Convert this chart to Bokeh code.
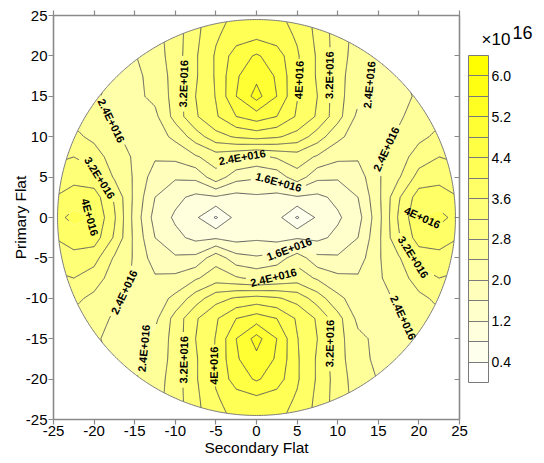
import numpy as np
from bokeh.plotting import figure
from bokeh.plotting.contour import contour_data
from bokeh.models import (Range1d, FixedTicker, LinearAxis, ColorBar, LinearColorMapper,
                          PrintfTickFormatter)
from bokeh.core.properties import value
from bokeh.embed import file_html
from bokeh.resources import INLINE

# ---------------- data (concentration in units of 1E+016) ----------------
secondary_flat = [-25.0, -22.5, -20.0, -17.5, -15.0, -12.5, -10.0, -7.5, -5.0, -2.5, 0.0,
                  2.5, 5.0, 7.5, 10.0, 12.5, 15.0, 17.5, 20.0, 22.5, 25.0]
primary_flat = [-25.0, -22.5, -20.0, -17.5, -15.0, -12.5, -10.0, -7.5, -5.0, -2.5, 0.0,
                2.5, 5.0, 7.5, 10.0, 12.5, 15.0, 17.5, 20.0, 22.5, 25.0]
# rows: primary flat -25 .. 25 ; columns: secondary flat -25 .. 25
concentration = [
    [2.60, 2.60, 2.50, 2.50, 2.50, 2.65, 3.00, 3.45, 3.90, 4.05, 4.10, 4.05, 3.90, 3.45, 3.00, 2.65, 2.50, 2.50, 2.50, 2.60, 2.60],
    [2.60, 2.60, 2.50, 2.45, 2.45, 2.65, 3.00, 3.50, 3.95, 4.20, 4.30, 4.20, 3.95, 3.50, 3.00, 2.65, 2.45, 2.45, 2.50, 2.60, 2.60],
    [2.60, 2.60, 2.50, 2.42, 2.38, 2.60, 3.00, 3.55, 4.05, 4.60, 4.85, 4.60, 4.05, 3.55, 3.00, 2.60, 2.38, 2.42, 2.50, 2.60, 2.60],
    [2.60, 2.60, 2.50, 2.35, 2.30, 2.55, 2.95, 3.55, 4.05, 4.75, 5.10, 4.75, 4.05, 3.55, 2.95, 2.55, 2.30, 2.35, 2.50, 2.60, 2.60],
    [2.60, 2.60, 2.45, 2.30, 2.30, 2.50, 2.95, 3.60, 4.02, 4.80, 5.35, 4.80, 4.02, 3.60, 2.95, 2.50, 2.30, 2.30, 2.45, 2.60, 2.60],
    [2.70, 2.70, 2.55, 2.35, 2.20, 2.30, 2.95, 3.55, 3.95, 4.40, 4.60, 4.40, 3.95, 3.55, 2.95, 2.30, 2.20, 2.35, 2.55, 2.70, 2.70],
    [2.90, 2.90, 2.70, 2.45, 2.30, 2.20, 2.50, 3.00, 3.45, 3.65, 3.75, 3.65, 3.45, 3.00, 2.50, 2.20, 2.30, 2.45, 2.70, 2.90, 2.90],
    [3.10, 3.20, 3.00, 2.60, 2.35, 2.05, 2.10, 2.35, 2.60, 2.45, 2.30, 2.45, 2.60, 2.35, 2.10, 2.05, 2.35, 2.60, 3.00, 3.20, 3.10],
    [3.40, 3.50, 3.35, 2.75, 2.35, 1.80, 1.65, 1.70, 2.25, 1.75, 1.65, 1.75, 2.25, 1.70, 1.65, 1.80, 2.35, 2.75, 3.35, 3.50, 3.40],
    [3.60, 3.75, 3.80, 3.15, 2.30, 1.60, 1.30, 1.10, 1.15, 1.05, 1.13, 1.05, 1.15, 1.10, 1.30, 1.60, 2.30, 3.15, 3.80, 3.75, 3.60],
    [3.80, 4.15, 3.97, 3.25, 2.25, 1.45, 1.14, 0.87, 0.35, 0.94, 1.05, 0.94, 0.35, 0.87, 1.14, 1.45, 2.25, 3.25, 3.97, 4.15, 3.80],
    [3.60, 3.75, 3.80, 3.15, 2.30, 1.60, 1.30, 1.10, 1.15, 1.05, 1.13, 1.05, 1.15, 1.10, 1.30, 1.60, 2.30, 3.15, 3.80, 3.75, 3.60],
    [3.40, 3.50, 3.35, 2.75, 2.35, 1.80, 1.65, 1.70, 2.25, 1.75, 1.65, 1.75, 2.25, 1.70, 1.65, 1.80, 2.35, 2.75, 3.35, 3.50, 3.40],
    [3.10, 3.20, 3.00, 2.60, 2.35, 2.05, 2.10, 2.35, 2.60, 2.45, 2.30, 2.45, 2.60, 2.35, 2.10, 2.05, 2.35, 2.60, 3.00, 3.20, 3.10],
    [2.90, 2.90, 2.70, 2.45, 2.30, 2.20, 2.50, 3.00, 3.45, 3.65, 3.75, 3.65, 3.45, 3.00, 2.50, 2.20, 2.30, 2.45, 2.70, 2.90, 2.90],
    [2.70, 2.70, 2.55, 2.35, 2.20, 2.30, 2.95, 3.55, 3.95, 4.40, 4.60, 4.40, 3.95, 3.55, 2.95, 2.30, 2.20, 2.35, 2.55, 2.70, 2.70],
    [2.60, 2.60, 2.45, 2.30, 2.30, 2.50, 2.95, 3.60, 4.02, 4.80, 5.35, 4.80, 4.02, 3.60, 2.95, 2.50, 2.30, 2.30, 2.45, 2.60, 2.60],
    [2.60, 2.60, 2.50, 2.35, 2.30, 2.55, 2.95, 3.55, 4.05, 4.75, 5.10, 4.75, 4.05, 3.55, 2.95, 2.55, 2.30, 2.35, 2.50, 2.60, 2.60],
    [2.60, 2.60, 2.50, 2.42, 2.38, 2.60, 3.00, 3.55, 4.05, 4.60, 4.85, 4.60, 4.05, 3.55, 3.00, 2.60, 2.38, 2.42, 2.50, 2.60, 2.60],
    [2.60, 2.60, 2.50, 2.45, 2.45, 2.65, 3.00, 3.50, 3.95, 4.20, 4.30, 4.20, 3.95, 3.50, 3.00, 2.65, 2.45, 2.45, 2.50, 2.60, 2.60],
    [2.60, 2.60, 2.50, 2.50, 2.50, 2.65, 3.00, 3.45, 3.90, 4.05, 4.10, 4.05, 3.90, 3.45, 3.00, 2.65, 2.50, 2.50, 2.50, 2.60, 2.60],
]
levels = [0.0, 0.4, 0.8, 1.2, 1.6, 2.0, 2.4, 2.8, 3.2, 3.6, 4.0, 4.4, 4.8, 5.2, 5.6, 6.0, 6.4]
colorbar_tick_labels = [0.4, 1.2, 2.0, 2.8, 3.6, 4.4, 5.2, 6.0]
axis_ticks = [-25, -20, -15, -10, -5, 0, 5, 10, 15, 20, 25]
multiplier_base = "×10"
multiplier_exponent = "16"
wafer_radius = 24.5

# contour labels: level and the approximate spot where its label sits
label_levels = [3.2, 4.0, 3.2, 2.4, 2.4, 3.2, 4.0, 2.4, 1.6, 2.4,
                4.0, 3.2, 1.6, 2.4, 2.4, 2.4, 2.4, 3.2, 4.0, 3.2]
label_seed_x = [-8.1, 5.2, 8.9, 13.5, -17.7, -19.2, -20.6, -1.6, 2.7, 15.8,
                20.4, 19.2, 4.2, 2.0, -16.8, 17.4, -13.4, -9.0, -5.3, 7.5]
label_seed_y = [16.5, 17.0, 17.6, 16.5, 12.0, 5.0, 0.0, 6.8, 4.3, 8.5,
                0.0, -5.0, -4.5, -6.9, -9.0, -12.7, -16.2, -17.6, -18.3, -15.6]

FONT = "Liberation Sans"
AXIS_GREY = "#8a8a8a"
LINE_GREY = "#4d4d4d"

# ---------------- figure ----------------
p = figure(width=540, height=462, x_range=Range1d(-25, 25), y_range=Range1d(-25, 25),
           output_backend="svg", toolbar_location=None,
           min_border_left=53, min_border_right=81, min_border_top=15, min_border_bottom=43,
           background_fill_color="white", border_fill_color="white")
p.xgrid.visible = False
p.ygrid.visible = False
p.outline_line_color = None

X = np.array(secondary_flat, float)
Y = np.array(primary_flat, float)
Z = np.array(concentration, float)

nb = len(levels) - 1
palette = ["#%02x%02x%02x" % (255, 255, int(round(255 * (1 - i / (nb - 1))))) for i in range(nb)]

p.contour(X, Y, Z, levels, fill_color=palette)

# ---- contour lines (computed by bokeh/contourpy), broken where labels sit ----
line_levels = levels[1:-1]
cdata = contour_data(X, Y, Z, line_levels, want_fill=False, want_line=True)
ld = cdata.line_data


def split_nan(xa, ya):
    xa = np.asarray(xa, float)
    ya = np.asarray(ya, float)
    if xa.size == 0:
        return []
    bad = np.where(np.isnan(xa) | np.isnan(ya))[0]
    bounds = [-1] + list(bad) + [len(xa)]
    segs = []
    for a, b in zip(bounds[:-1], bounds[1:]):
        if b - a - 1 >= 2:
            segs.append(np.column_stack([xa[a + 1:b], ya[a + 1:b]]))
    return segs


def to_segments(xa, ya):
    if isinstance(xa, (list, tuple)) and len(xa) and np.ndim(xa[0]) == 1:
        out = []
        for a, b in zip(xa, ya):
            out += split_nan(a, b)
        return out
    return split_nan(xa, ya)


def densify(seg, step=0.12):
    pts = [seg[0]]
    for a, b in zip(seg[:-1], seg[1:]):
        d = float(np.hypot(*(b - a)))
        n = max(1, int(np.ceil(d / step)))
        for t in np.arange(1, n + 1) / n:
            pts.append(a + (b - a) * t)
    return np.array(pts)


dense = {}
for lv, xa, ya in zip(line_levels, ld.xs, ld.ys):
    dense[round(lv, 3)] = [densify(s) for s in to_segments(xa, ya)]

px_per_unit = 406 / 50.0
masks = {}
tx, ty, tt, ta = [], [], [], []
for lv, sx, sy in zip(label_levels, label_seed_x, label_seed_y):
    segs = dense.get(round(lv, 3), [])
    best = None
    for si, s in enumerate(segs):
        d = np.hypot(s[:, 0] - sx, s[:, 1] - sy)
        i = int(np.argmin(d))
        if best is None or d[i] < best[0]:
            best = (d[i], si, i)
    if best is None:
        continue
    _, si, i = best
    s = segs[si]
    i0, i1 = max(i - 8, 0), min(i + 8, len(s) - 1)
    dx, dy = s[i1] - s[i0]
    ang = float(np.arctan2(dy, dx))
    if ang > np.pi / 2:
        ang -= np.pi
    if ang <= -np.pi / 2:
        ang += np.pi
    text = "%gE+016" % lv
    half = (len(text) * 6.3 / 2 + 2) / px_per_unit
    masks.setdefault(round(lv, 3), []).append((s[i, 0], s[i, 1], half))
    tx.append(s[i, 0]); ty.append(s[i, 1]); tt.append(text); ta.append(ang)

mlx, mly = [], []
for key, segs in dense.items():
    ms = masks.get(key, [])
    for s in segs:
        keep = np.ones(len(s), bool)
        for cx, cy, r in ms:
            keep &= np.hypot(s[:, 0] - cx, s[:, 1] - cy) > r
        run = []
        for k in range(len(s)):
            if keep[k]:
                run.append(k)
            else:
                if len(run) >= 2:
                    mlx.append(s[run, 0].tolist()); mly.append(s[run, 1].tolist())
                run = []
        if len(run) >= 2:
            mlx.append(s[run, 0].tolist()); mly.append(s[run, 1].tolist())

p.multi_line(mlx, mly, line_color=LINE_GREY, line_width=0.9)

# ---- white mask outside the wafer ----
th = np.linspace(0, 2 * np.pi, 721)
cx_ = (wafer_radius * np.cos(th)).tolist()
cy_ = (wafer_radius * np.sin(th)).tolist()
p.multi_polygons(xs=[[[[-30, 30, 30, -30], cx_[::-1]]]], ys=[[[[-30, -30, 30, 30], cy_[::-1]]]],
                 fill_color="white", line_color=None)
p.line(cx_, cy_, line_color="#7a7a7a", line_width=1)

# ---- contour labels ----
p.text(x=tx, y=ty, text=tt, angle=ta, text_align="center", text_baseline="middle",
       text_font=value(FONT), text_font_size="11px", text_font_style="bold", text_color="black")

# ---------------- axes ----------------
for ax in (p.xaxis[0], p.yaxis[0]):
    ax.ticker = FixedTicker(ticks=axis_ticks)
    ax.formatter = PrintfTickFormatter(format="%d")
    ax.axis_line_color = AXIS_GREY
    ax.axis_line_width = 1.6
    ax.major_tick_line_color = AXIS_GREY
    ax.major_tick_line_width = 1.2
    ax.major_tick_out = 5
    ax.major_tick_in = 0
    ax.minor_tick_line_color = None
    ax.major_label_text_font = FONT
    ax.major_label_text_font_size = "15px"
    ax.major_label_text_color = "black"
    ax.axis_label_text_font = FONT
    ax.axis_label_text_font_size = "15.5px"
    ax.axis_label_text_font_style = "normal"
    ax.axis_label_text_color = "black"
p.xaxis[0].axis_label = "Secondary Flat"
p.yaxis[0].axis_label = "Primary Flat"
p.xaxis[0].major_label_standoff = 1
p.xaxis[0].axis_label_standoff = 0
p.yaxis[0].major_label_standoff = 1
p.yaxis[0].axis_label_standoff = -6

for side in ("above", "right"):
    ax = LinearAxis(ticker=FixedTicker(ticks=axis_ticks))
    ax.axis_line_color = AXIS_GREY
    ax.axis_line_width = 1.6
    ax.major_tick_line_color = AXIS_GREY
    ax.major_tick_line_width = 1.2
    ax.minor_tick_line_color = None
    ax.major_label_text_color = None
    ax.major_label_text_font_size = "0px"
    ax.major_label_standoff = 0
    if side == "above":
        ax.major_tick_out = 5
        ax.major_tick_in = 0
    else:
        ax.major_tick_out = 0
        ax.major_tick_in = 5
    p.add_layout(ax, side)

# ---------------- colour bar ----------------
mapper = LinearColorMapper(palette=palette, low=levels[0], high=levels[-1])
minor = [lv for lv in levels[1:-1] if lv not in colorbar_tick_labels]
cb = ColorBar(color_mapper=mapper,
              ticker=FixedTicker(ticks=colorbar_tick_labels, minor_ticks=minor),
              formatter=PrintfTickFormatter(format="%.1f"),
              orientation="vertical", width=20, height=327, location=(415, 37),
              padding=0, margin=0, title=None,
              bar_line_color="#7a7a7a", bar_line_width=1,
              border_line_color=None, background_fill_color=None,
              major_tick_in=20, major_tick_out=0, major_tick_line_color="#7a7a7a",
              minor_tick_in=20, minor_tick_out=0, minor_tick_line_color="#7a7a7a",
              label_standoff=3, major_label_text_font=FONT, major_label_text_font_size="14px",
              major_label_text_color="black")
p.add_layout(cb)


def caption_bar(text, size, loc):
    # an invisible colour-bar whose title carries the multiplier text
    return ColorBar(color_mapper=mapper, ticker=FixedTicker(ticks=[]),
                    orientation="horizontal", width=1, height=1, location=loc,
                    padding=0, margin=0, scale_alpha=0, bar_line_color=None,
                    border_line_color=None, background_fill_color=None,
                    major_tick_in=0, major_tick_out=0, label_standoff=0,
                    major_tick_line_color=None, minor_tick_line_color=None,
                    major_label_text_color=None, major_label_text_font_size="0px",
                    title=text, title_standoff=0, title_text_font=FONT,
                    title_text_font_size=size, title_text_font_style="normal",
                    title_text_color="black")


p.add_layout(caption_bar(multiplier_base, "17px", (428, 370)))
p.add_layout(caption_bar(multiplier_exponent, "18px", (459, 380)))

open("out.html", "w").write(file_html(p, INLINE))
